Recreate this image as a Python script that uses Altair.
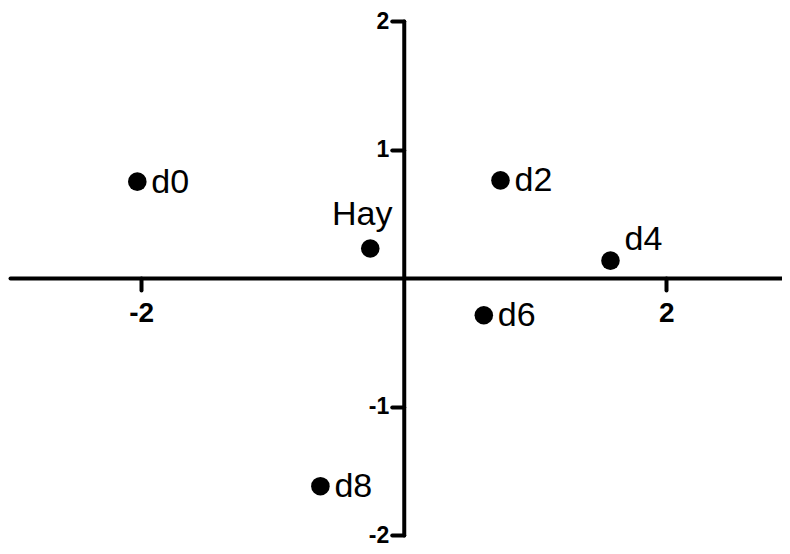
import altair as alt
import pandas as pd

labels = ["d0", "Hay", "d2", "d4", "d6", "d8"]
xs = [-2.03, -0.255, 0.737, 1.575, 0.61, -0.635]
ys = [0.75, 0.23, 0.76, 0.135, -0.29, -1.62]
x_ticks = [-2, 2]
y_ticks = [-2, -1, 1, 2]

df = pd.DataFrame({"label": labels, "x": xs, "y": ys})

FONT = "Liberation Sans"
XUNIT = 131.25
YUNIT = 128.5
W, H = 772, 4 * 128.5

xscale = alt.Scale(domain=[-3.0, W / XUNIT - 3.0], nice=False, zero=False)
yscale = alt.Scale(domain=[-2, 2], nice=False, zero=False)

xaxis = alt.Axis(
    values=x_ticks, title=None, grid=False, offset=-2 * YUNIT,
    domainColor="black", domainWidth=4, domainCap="round",
    tickColor="black", tickWidth=4, tickSize=12, tickCap="round",
    labelFont=FONT, labelFontSize=28, labelFontWeight="bold", labelColor="black",
    labelPadding=9, labelFlush=False, labelExpr="'' + datum.value",
)
yaxis = alt.Axis(
    values=y_ticks, title=None, grid=False, offset=-3 * XUNIT,
    domainColor="black", domainWidth=4, domainCap="round",
    tickColor="black", tickWidth=4, tickSize=12, tickCap="round",
    labelFont=FONT, labelFontSize=23, labelFontWeight="bold", labelColor="black",
    labelPadding=3, labelFlush=False, labelExpr="'' + datum.value",
)

base = alt.Chart(df)

points = base.mark_circle(size=345, color="black", opacity=1).encode(
    x=alt.X("x:Q", scale=xscale, axis=xaxis),
    y=alt.Y("y:Q", scale=yscale, axis=yaxis),
)

enc = dict(
    x=alt.X("x:Q", scale=xscale),
    y=alt.Y("y:Q", scale=yscale),
    text="label:N",
)

LABEL_SIZE = 34

right_labels = base.transform_filter(
    alt.FieldOneOfPredicate(field="label", oneOf=["d0", "d2", "d6", "d8"])
).mark_text(
    align="left", baseline="alphabetic", dx=14, dy=11,
    font=FONT, fontSize=LABEL_SIZE, color="black",
).encode(**enc)

hay_label = base.transform_filter(
    alt.FieldEqualPredicate(field="label", equal="Hay")
).mark_text(
    align="center", baseline="alphabetic", dx=-8, dy=-23,
    font=FONT, fontSize=LABEL_SIZE, color="black",
).encode(**enc)

d4_label = base.transform_filter(
    alt.FieldEqualPredicate(field="label", equal="d4")
).mark_text(
    align="left", baseline="alphabetic", dx=14, dy=-11,
    font=FONT, fontSize=LABEL_SIZE, color="black",
).encode(**enc)

chart = alt.layer(points, right_labels, hay_label, d4_label).properties(
    width=W, height=H,
    background="white",
    autosize=alt.AutoSizeParams(type="none"),
    padding={"left": 2, "top": 13, "right": 0, "bottom": 11},
).configure_view(stroke=None, strokeWidth=0)

chart.save("out.html", embed_options={"renderer": "svg", "actions": False})
